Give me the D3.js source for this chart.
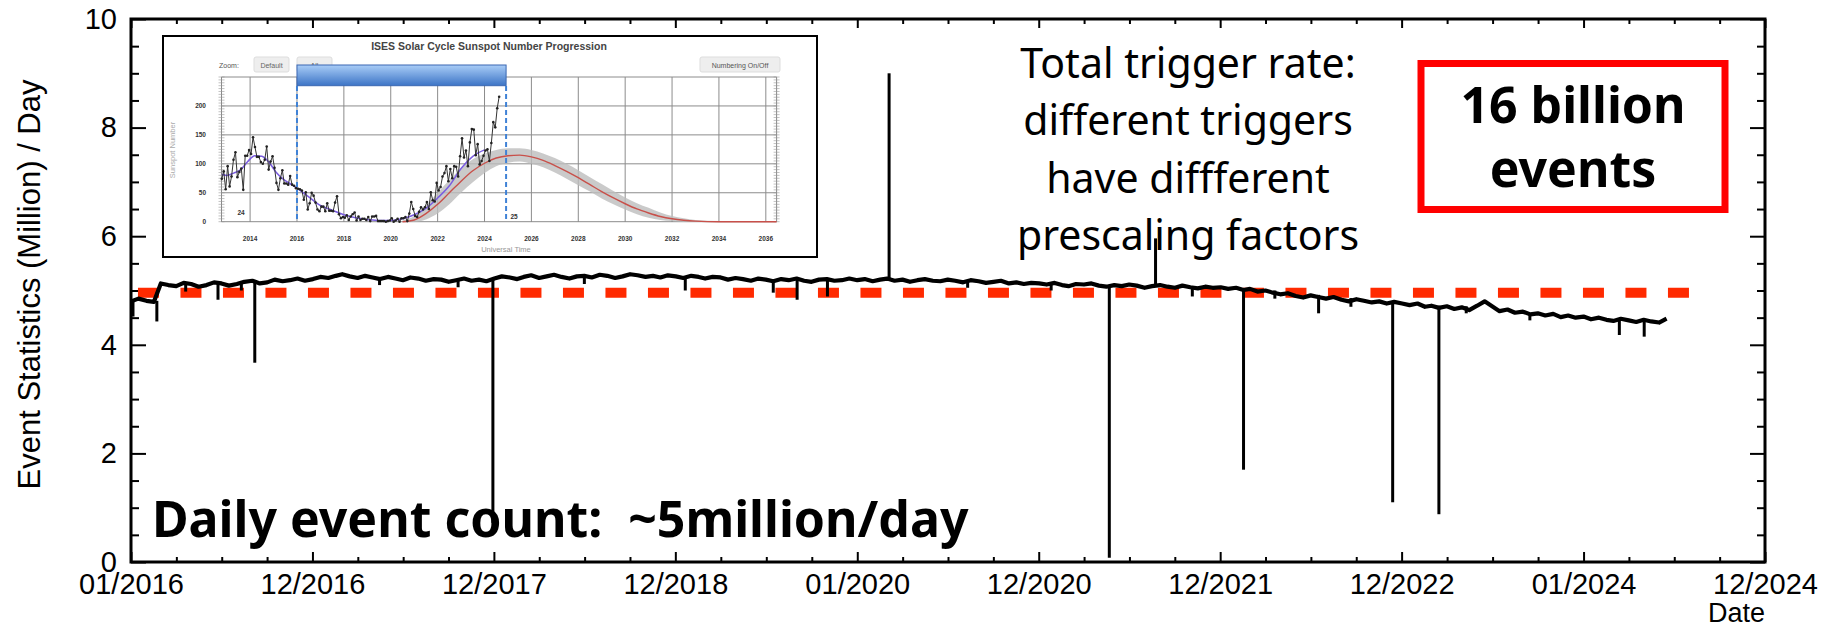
<!DOCTYPE html>
<html>
<head>
<meta charset="utf-8">
<script src="https://cdn.jsdelivr.net/npm/d3@7"></script>
<style>
  html, body { margin: 0; padding: 0; background: #fff; }
  svg { display: block; }
</style>
</head>
<body>
<svg id="chart" width="1834" height="629"></svg>
<script>
// ---------- main chart data ----------
const tickDates = ["2016-01-01", "2016-12-31", "2017-12-31", "2018-12-31", "2020-01-01",
                   "2020-12-31", "2021-12-31", "2022-12-31", "2024-01-01", "2024-12-31"];
const tickLabels = ["01/2016", "12/2016", "12/2017", "12/2018", "01/2020",
                    "12/2020", "12/2021", "12/2022", "01/2024", "12/2024"];
const yTicks = [0, 2, 4, 6, 8, 10];

// event count (million / day), sampled on the 1st and 16th of each month
const rate2016 = [4.80, 4.85, 4.81, 4.79, 5.13, 5.10, 5.08, 5.14, 5.12, 5.07, 5.10, 5.15, 5.13, 5.09, 5.12, 5.16, 5.18, 5.13, 5.15, 5.20, 5.17, 5.19, 5.22, 5.18];
const rate2017 = [5.21, 5.25, 5.23, 5.27, 5.30, 5.26, 5.23, 5.27, 5.24, 5.21, 5.25, 5.22, 5.19, 5.24, 5.22, 5.18, 5.21, 5.20, 5.16, 5.19, 5.22, 5.18, 5.20, 5.17];
const rate2018 = [5.22, 5.26, 5.24, 5.21, 5.25, 5.28, 5.23, 5.26, 5.29, 5.25, 5.22, 5.26, 5.27, 5.24, 5.29, 5.27, 5.23, 5.26, 5.30, 5.28, 5.25, 5.27, 5.24, 5.28];
const rate2019 = [5.26, 5.23, 5.27, 5.25, 5.22, 5.25, 5.24, 5.20, 5.23, 5.21, 5.18, 5.22, 5.20, 5.17, 5.21, 5.19, 5.22, 5.18, 5.16, 5.20, 5.21, 5.18, 5.19, 5.22];
const rate2020 = [5.19, 5.21, 5.17, 5.20, 5.22, 5.18, 5.20, 5.16, 5.19, 5.21, 5.18, 5.17, 5.20, 5.18, 5.15, 5.19, 5.17, 5.14, 5.16, 5.18, 5.13, 5.15, 5.12, 5.14];
const rate2021 = [5.13, 5.11, 5.14, 5.10, 5.08, 5.12, 5.11, 5.13, 5.09, 5.07, 5.10, 5.08, 5.11, 5.09, 5.05, 5.08, 5.10, 5.07, 5.05, 5.09, 5.06, 5.04, 5.07, 5.05];
const rate2022 = [5.06, 5.03, 5.05, 5.01, 5.03, 4.98, 5.00, 4.96, 4.93, 4.95, 4.90, 4.87, 4.91, 4.88, 4.85, 4.88, 4.83, 4.80, 4.84, 4.81, 4.78, 4.80, 4.76, 4.79];
const rate2023 = [4.76, 4.73, 4.76, 4.70, 4.72, 4.68, 4.71, 4.66, 4.69, 4.64, 4.72, 4.80, 4.71, 4.62, 4.65, 4.59, 4.61, 4.56, 4.58, 4.54, 4.57, 4.51, 4.54, 4.50];
const rate2024 = [4.52, 4.47, 4.50, 4.46, 4.44, 4.48, 4.45, 4.42, 4.46, 4.43, 4.41, 4.48];
const rateYears = [2016, 2017, 2018, 2019, 2020, 2021, 2022, 2023, 2024];
const rateSeries = [rate2016, rate2017, rate2018, rate2019, rate2020, rate2021, rate2022, rate2023, rate2024];

// single-day outliers: date, normal level, value reached that day
const spikeDates  = ["2016-01-05", "2016-02-22", "2016-04-20", "2016-06-24", "2016-08-10", "2016-09-06",
                     "2017-05-15", "2017-10-20", "2017-12-29", "2018-07-01", "2019-01-20", "2019-07-16",
                     "2019-09-02", "2019-11-02", "2020-03-05", "2020-08-10", "2021-01-25", "2021-05-22",
                     "2021-08-23", "2021-11-05", "2022-02-16", "2022-04-20", "2022-07-17", "2022-09-20",
                     "2022-12-13", "2023-03-16", "2023-05-10", "2023-09-15", "2024-03-13", "2024-05-02"];
const spikeFrom   = [4.80, 4.81, 5.11, 5.12, 5.14, 5.15, 5.24, 5.20, 5.20, 5.26, 5.25, 5.21,
                     5.20, 5.19, 5.20, 5.18, 5.12, 5.10, 5.08, 5.08, 5.04, 5.00, 4.92, 4.86,
                     4.78, 4.72, 4.71, 4.58, 4.48, 4.46];
const spikeTo     = [4.52, 4.43, 4.98, 4.83, 5.00, 3.67, 5.10, 5.06, 0.72, 5.12, 5.00, 4.96,
                     4.83, 4.89, 9.00, 5.05, 5.00, 0.08, 5.96, 4.89, 1.70, 4.85, 4.58, 4.70,
                     1.10, 0.88, 4.58, 4.45, 4.18, 4.15];

const refLevel = 4.96;
const refStart = "2016-01-15", refEnd = "2024-08-14";

// ---------- inset (sunspot progression) data ----------
const ssnStart = 2012 + 9.5 / 12;   // first monthly value: Oct 2012
const ssnMonthly = [74, 87, 56,
  96, 61, 78, 107, 120, 77, 86, 92, 55, 114, 114, 124,
  117, 146, 129, 112, 112, 103, 100, 107, 130, 90, 104, 113,
  93, 67, 55, 75, 89, 66, 66, 64, 79, 64, 62, 58,
  57, 56, 54, 38, 51, 21, 32, 50, 45, 33, 21, 18,
  26, 26, 18, 32, 19, 19, 18, 33, 44, 13, 6, 8,
  7, 11, 3, 9, 13, 16, 2, 9, 3, 5, 5, 3,
  8, 1, 9, 9, 10, 1, 1, 1, 1, 0, 1, 2,
  6, 0, 2, 5, 0, 6, 6, 8, 1, 14, 34, 22,
  10, 8, 17, 25, 21, 25, 34, 22, 51, 37, 35, 67,
  54, 60, 78, 84, 96, 70, 91, 75, 96, 95, 78, 113,
  144, 111, 123, 96, 137, 160, 159, 115, 134, 99, 105, 114,
  123, 125, 105, 136, 172, 163, 196, 216];
const ssnSmoothYears = [2012.8, 2013.0, 2013.3, 2013.6, 2013.9, 2014.2, 2014.5, 2014.8, 2015.1, 2015.4, 2015.7, 2016.0, 2016.5, 2017.0,
                        2017.5, 2018.0, 2018.5, 2019.0, 2019.5, 2020.0, 2020.5, 2021.0, 2021.5, 2022.0, 2022.5, 2023.0, 2023.5, 2024.0];
const ssnSmooth = [82, 80, 84, 90, 104, 114, 113, 103, 86, 74, 66, 58, 43, 28,
                   20, 12, 7, 4, 2, 2, 5, 12, 23, 41, 62, 92, 113, 124];
const predYears = [2020.5, 2021, 2021.5, 2022, 2022.5, 2023, 2023.5, 2024, 2024.5, 2025, 2025.5, 2026, 2026.5, 2027,
                   2027.5, 2028, 2028.5, 2029, 2029.5, 2030, 2030.5, 2031, 2031.5, 2032, 2032.5, 2033, 2034, 2036.46];
const predMid  = [0, 3, 14, 30, 50, 70, 88, 101, 110, 114, 115, 112, 106, 97, 87, 76, 64, 52, 41, 31, 22, 15, 9, 5, 2.5, 1, 0, 0];
const predHigh = [2, 10, 28, 50, 72, 92, 108, 118, 124, 127, 127, 124, 118, 110, 100, 89, 77, 65, 53, 42, 32, 24, 16, 10, 6, 3, 1, 0];
const predLow  = [0, 0, 4, 14, 30, 50, 68, 84, 96, 102, 104, 100, 94, 85, 74, 63, 52, 40, 30, 21, 13, 7, 3, 1, 0, 0, 0, 0];
const insetYears = [2014, 2016, 2018, 2020, 2022, 2024, 2026, 2028, 2030, 2032, 2034, 2036];
const insetYTicks = [0, 50, 100, 150, 200];
const spanStart = 2016.0, spanEnd = 2024.92;   // period covered by the main plot

// ---------- drawing ----------
const svg = d3.select("#chart");
const parse = d3.utcParse("%Y-%m-%d");
const AX_FONT = "'Liberation Sans', Arial, Helvetica, sans-serif";

const L = 131, R = 1765, T = 19, B = 562;
const x = d3.scaleUtc().domain([parse("2016-01-01"), parse("2024-12-31")]).range([L, R]);
const y = d3.scaleLinear().domain([0, 10]).range([B, T]);

const majorDates = tickDates.map(parse);
const minorDates = [];
for (let k = 0; k < majorDates.length - 1; k++) {
  const a = +majorDates[k], b = +majorDates[k + 1];
  for (let j = 1; j < 4; j++) minorDates.push(new Date(a + (b - a) * j / 4));
}
const minorY = d3.range(0.5, 10, 0.5).filter(v => v % 2 !== 0);

// inset first so the main frame and line sit over nothing important
drawInset();

function styleAxis(g) {
  g.select(".domain").remove();
  g.selectAll(".tick line").attr("stroke", "#000").attr("stroke-width", 2);
  g.selectAll("text").attr("font-family", AX_FONT).attr("fill", "#000");
}

// bottom
svg.append("g").attr("transform", `translate(0,${B})`)
  .call(d3.axisBottom(x).tickValues(majorDates).tickFormat((d, i) => tickLabels[i]).tickSizeInner(-10).tickSizeOuter(0).tickPadding(11))
  .call(styleAxis).selectAll("text").attr("font-size", 29);
svg.append("g").attr("transform", `translate(0,${B})`)
  .call(d3.axisBottom(x).tickValues(minorDates).tickFormat("").tickSizeInner(-5).tickSizeOuter(0)).call(styleAxis);
// top
svg.append("g").attr("transform", `translate(0,${T})`)
  .call(d3.axisTop(x).tickValues(majorDates).tickFormat("").tickSizeInner(-9).tickSizeOuter(0)).call(styleAxis);
svg.append("g").attr("transform", `translate(0,${T})`)
  .call(d3.axisTop(x).tickValues(minorDates).tickFormat("").tickSizeInner(-5).tickSizeOuter(0)).call(styleAxis);
// left
svg.append("g").attr("transform", `translate(${L},0)`)
  .call(d3.axisLeft(y).tickValues(yTicks).tickFormat(d3.format("d")).tickSizeInner(-15).tickSizeOuter(0).tickPadding(14))
  .call(styleAxis).selectAll("text").attr("font-size", 29);
svg.append("g").attr("transform", `translate(${L},0)`)
  .call(d3.axisLeft(y).tickValues(minorY).tickFormat("").tickSizeInner(-8).tickSizeOuter(0)).call(styleAxis);
// right
svg.append("g").attr("transform", `translate(${R},0)`)
  .call(d3.axisRight(y).tickValues(yTicks).tickFormat("").tickSizeInner(-15).tickSizeOuter(0)).call(styleAxis);
svg.append("g").attr("transform", `translate(${R},0)`)
  .call(d3.axisRight(y).tickValues(minorY).tickFormat("").tickSizeInner(-8).tickSizeOuter(0)).call(styleAxis);

svg.append("rect").attr("x", L).attr("y", T).attr("width", R - L).attr("height", B - T)
  .attr("fill", "none").attr("stroke", "#000").attr("stroke-width", 3);

// axis titles
svg.append("text").attr("transform", `translate(40,${(T + B) / 2 - 6}) rotate(-90)`)
  .attr("text-anchor", "middle").attr("font-family", AX_FONT).attr("font-size", 31)
  .text("Event Statistics (Million) / Day");
svg.append("text").attr("x", R).attr("y", 622).attr("text-anchor", "end")
  .attr("font-family", AX_FONT).attr("font-size", 27).text("Date");

// reference level
svg.append("line")
  .attr("x1", x(parse(refStart))).attr("x2", x(parse(refEnd)))
  .attr("y1", y(refLevel)).attr("y2", y(refLevel))
  .attr("stroke", "#ff2a00").attr("stroke-width", 10).attr("stroke-dasharray", "21 21.5");

// rate series
const points = [];
rateYears.forEach((yr, k) => {
  rateSeries[k].forEach((v, i) => {
    points.push({ date: new Date(Date.UTC(yr, Math.floor(i / 2), i % 2 ? 16 : 1)), v });
  });
});
svg.append("path").datum(points)
  .attr("fill", "none").attr("stroke", "#000").attr("stroke-width", 4.2).attr("stroke-linejoin", "round")
  .attr("d", d3.line().x(d => x(d.date)).y(d => y(d.v)));

svg.append("g").selectAll("path").data(spikeDates).join("path")
  .attr("fill", "none").attr("stroke", "#000").attr("stroke-width", 3)
  .attr("d", (d, i) => `M${x(parse(d))},${y(spikeFrom[i])}V${y(spikeTo[i])}`);

// annotations
const note = svg.append("text").attr("text-anchor", "middle")
  .attr("font-family", "'Noto Sans', sans-serif").attr("font-size", 41).attr("fill", "#000");
["Total trigger rate:", "different triggers", "have diffferent", "prescaling factors"].forEach((s, i) => {
  note.append("tspan").attr("x", 1188).attr("y", 78 + i * 57.3).text(s);
});

svg.append("rect").attr("x", 1421).attr("y", 63.5).attr("width", 304).attr("height", 146)
  .attr("fill", "#fff").attr("stroke", "#ff0000").attr("stroke-width", 7);
const box = svg.append("text").attr("text-anchor", "middle")
  .attr("font-family", "'Noto Sans', sans-serif").attr("font-size", 50).attr("font-weight", "bold");
box.append("tspan").attr("x", 1573).attr("y", 123).text("16 billion");
box.append("tspan").attr("x", 1573).attr("y", 187).text("events");

svg.append("text").attr("x", 152).attr("y", 537)
  .attr("font-family", "'Noto Sans', sans-serif").attr("font-size", 50).attr("font-weight", "bold")
  .attr("xml:space", "preserve").text("Daily event count:  ~5million/day");

function drawInset() {
  const g = svg.append("g");
  g.append("rect").attr("x", 163).attr("y", 36).attr("width", 654).attr("height", 221)
    .attr("fill", "#fff").attr("stroke", "#000").attr("stroke-width", 2);

  const ix = d3.scaleLinear().domain([2012.78, 2036.46]).range([221.5, 776.6]);
  const iy = d3.scaleLinear().domain([0, 250]).range([221.7, 77]);
  const F = AX_FONT;

  g.append("text").attr("x", 489).attr("y", 50).attr("text-anchor", "middle")
    .attr("font-family", F).attr("font-size", 10.5).attr("font-weight", "bold").attr("fill", "#444")
    .text("ISES Solar Cycle Sunspot Number Progression");
  g.append("text").attr("x", 219).attr("y", 67.5).attr("font-family", F).attr("font-size", 7).attr("fill", "#555").text("Zoom:");
  [[254, "Default"], [297, "All"]].forEach(([bx, s]) => {
    g.append("rect").attr("x", bx).attr("y", 57).attr("width", 35).attr("height", 15).attr("rx", 2)
      .attr("fill", "#eeeeee").attr("stroke", "#dddddd");
    g.append("text").attr("x", bx + 17.5).attr("y", 67.5).attr("text-anchor", "middle")
      .attr("font-family", F).attr("font-size", 7).attr("fill", "#666").text(s);
  });
  g.append("rect").attr("x", 700).attr("y", 57).attr("width", 80).attr("height", 15).attr("rx", 2)
    .attr("fill", "#eeeeee").attr("stroke", "#dddddd");
  g.append("text").attr("x", 740).attr("y", 67.5).attr("text-anchor", "middle")
    .attr("font-family", F).attr("font-size", 7).attr("fill", "#555").text("Numbering On/Off");

  // grid
  g.append("g").selectAll("line").data(insetYears).join("line")
    .attr("x1", d => ix(d)).attr("x2", d => ix(d)).attr("y1", 77).attr("y2", 222)
    .attr("stroke", "#8c8c8c").attr("stroke-width", 1);
  g.append("g").selectAll("line").data(insetYTicks.concat([250])).join("line")
    .attr("x1", 221.5).attr("x2", 776.6).attr("y1", d => iy(d)).attr("y2", d => iy(d))
    .attr("stroke", "#8c8c8c").attr("stroke-width", 1);
  [221.5, 776.6].forEach(px => {
    g.append("line").attr("x1", px).attr("x2", px).attr("y1", 77).attr("y2", 222).attr("stroke", "#888");
    g.append("g").selectAll("line").data(d3.range(0, 251, 5)).join("line")
      .attr("x1", px - 3).attr("x2", px + 3).attr("y1", d => iy(d)).attr("y2", d => iy(d))
      .attr("stroke", "#999").attr("stroke-width", 0.6);
  });

  g.append("g").selectAll("text").data(insetYTicks).join("text")
    .attr("x", 206).attr("y", d => iy(d) + 2.5).attr("text-anchor", "end")
    .attr("font-family", F).attr("font-size", 6.5).attr("font-weight", "bold").attr("fill", "#333").text(d => d);
  g.append("g").selectAll("text").data(insetYears).join("text")
    .attr("x", d => ix(d)).attr("y", 240.5).attr("text-anchor", "middle")
    .attr("font-family", F).attr("font-size", 6.5).attr("font-weight", "bold").attr("fill", "#333").text(d => d);
  g.append("text").attr("x", 506).attr("y", 252).attr("text-anchor", "middle")
    .attr("font-family", F).attr("font-size", 7.5).attr("fill", "#999").text("Universal Time");
  g.append("text").attr("transform", "translate(175,150) rotate(-90)").attr("text-anchor", "middle")
    .attr("font-family", F).attr("font-size", 7.5).attr("fill", "#aaa").text("Sunspot Number");

  // predicted cycle 25
  g.append("path").datum(predYears)
    .attr("fill", "#bdbdbd").attr("opacity", 0.8)
    .attr("d", d3.area().x(d => ix(d)).y0((d, i) => iy(predLow[i])).y1((d, i) => iy(predHigh[i])).curve(d3.curveMonotoneX));
  g.append("path").datum(predYears)
    .attr("fill", "none").attr("stroke", "#c8504a").attr("stroke-width", 1.4)
    .attr("d", d3.line().x(d => ix(d)).y((d, i) => iy(predMid[i])).curve(d3.curveMonotoneX));

  // smoothed
  g.append("path").datum(ssnSmoothYears)
    .attr("fill", "none").attr("stroke", "#7a5ce0").attr("stroke-width", 1.5)
    .attr("d", d3.line().x(d => ix(d)).y((d, i) => iy(ssnSmooth[i])).curve(d3.curveMonotoneX));

  // observed monthly
  const obs = ssnMonthly.map((v, i) => ({ t: ssnStart + i / 12, v }));
  g.append("path").datum(obs)
    .attr("fill", "none").attr("stroke", "#333").attr("stroke-width", 1)
    .attr("d", d3.line().x(d => ix(d.t)).y(d => iy(d.v)));
  g.append("g").selectAll("circle").data(obs).join("circle")
    .attr("cx", d => ix(d.t)).attr("cy", d => iy(d.v)).attr("r", 1.3).attr("fill", "#222");

  g.append("text").attr("x", 241).attr("y", 215).attr("text-anchor", "middle")
    .attr("font-family", F).attr("font-size", 6.5).attr("font-weight", "bold").attr("fill", "#333").text("24");
  g.append("text").attr("x", 514).attr("y", 219).attr("text-anchor", "middle")
    .attr("font-family", F).attr("font-size", 6.5).attr("font-weight", "bold").attr("fill", "#333").text("25");

  // span of the main plot
  const defs = svg.append("defs");
  const grad = defs.append("linearGradient").attr("id", "barGrad").attr("x1", 0).attr("x2", 0).attr("y1", 0).attr("y2", 1);
  grad.append("stop").attr("offset", "0%").attr("stop-color", "#a9cdf7");
  grad.append("stop").attr("offset", "100%").attr("stop-color", "#3c74c6");
  g.append("rect").attr("x", ix(spanStart)).attr("y", 65).attr("width", ix(spanEnd) - ix(spanStart)).attr("height", 20.7)
    .attr("fill", "url(#barGrad)").attr("stroke", "#3a67b2").attr("stroke-width", 1);
  [spanStart, spanEnd].forEach(t => {
    g.append("line").attr("x1", ix(t)).attr("x2", ix(t)).attr("y1", 86).attr("y2", 221)
      .attr("stroke", "#3f82d6").attr("stroke-width", 2).attr("stroke-dasharray", "5 3");
  });
}
</script>
</body>
</html>
